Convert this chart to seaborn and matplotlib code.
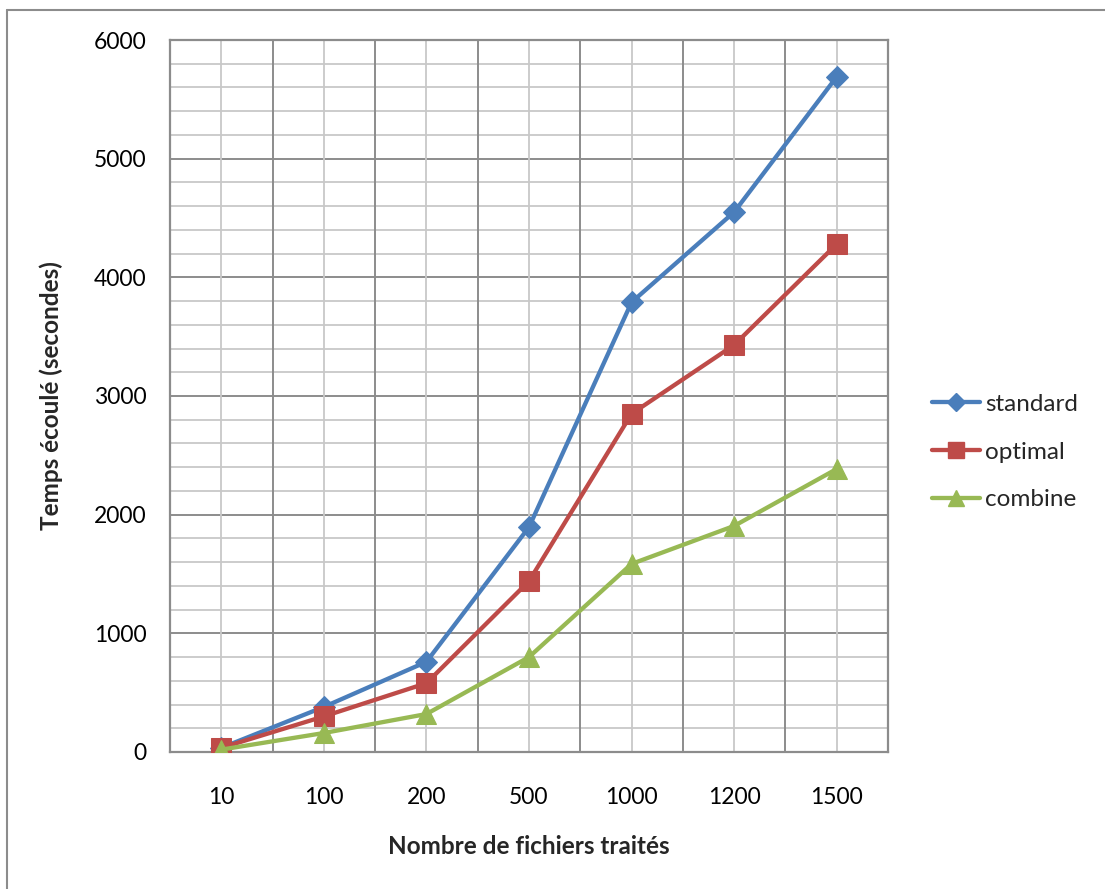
import matplotlib
matplotlib.use("Agg")
import matplotlib.pyplot as plt
from matplotlib.lines import Line2D
import numpy as np
import pandas as pd
import seaborn as sns

categories = ["10", "100", "200", "500", "1000", "1200", "1500"]
standard = [35, 380, 760, 1895, 3790, 4550, 5690]
optimal = [35, 300, 580, 1440, 2850, 3430, 4280]
combine = [20, 160, 320, 800, 1585, 1905, 2385]
series_names = ["standard", "optimal", "combine"]
y_ticks = [0, 1000, 2000, 3000, 4000, 5000, 6000]

colors = {"standard": "#4A7EBB", "optimal": "#BE4B48", "combine": "#98B954"}
markers = {"standard": "D", "optimal": "s", "combine": "^"}
msizes = {"standard": 11, "optimal": 14, "combine": 14}

sns.set_style("white")
plt.rcParams["font.family"] = ["Lato", "DejaVu Sans"]

rows = []
for name, vals in zip(series_names, [standard, optimal, combine]):
    for i, v in enumerate(vals):
        rows.append({"pos": i, "value": v, "series": name})
df = pd.DataFrame(rows)

fig = plt.figure(figsize=(11.05, 8.89), dpi=100)
ax = fig.add_axes([170 / 1105, 1 - 752 / 889, (888 - 170) / 1105, (752 - 40) / 889])

for name in series_names:
    sub = df[df["series"] == name]
    sns.lineplot(data=sub, x="pos", y="value", ax=ax, color=colors[name],
                 marker=markers[name], markersize=msizes[name],
                 markeredgecolor=colors[name], linewidth=3.1, label=name,
                 legend=False, zorder=3)

ax.set_xlim(-0.5, len(categories) - 0.5)
ax.set_ylim(0, 6000)
ax.set_xticks(range(len(categories)))
ax.set_xticklabels(categories)
ax.set_yticks(y_ticks)

# gridlines: darker at y majors and x category boundaries
ax.grid(False)
for y in np.arange(200, 6000, 200):
    major = (y % 1000 == 0)
    ax.axhline(y, color="#8c8c8c" if major else "#c8c8c8", lw=1.4 if major else 1.3, zorder=1)
for x in np.arange(-0.5, len(categories), 1.0):
    ax.axvline(x, color="#8c8c8c", lw=1.4, zorder=1)
for x in range(len(categories)):
    ax.axvline(x, color="#c8c8c8", lw=1.3, zorder=1)

for s in ax.spines.values():
    s.set_color("#8c8c8c")
    s.set_linewidth(1.6)

ax.tick_params(axis="both", which="both", length=0, labelsize=16.5, colors="black")
ax.tick_params(axis="y", pad=17)
ax.tick_params(axis="x", pad=25)

ax.set_xlabel("Nombre de fichiers traités", fontsize=17.5, fontweight="bold", labelpad=20)
ax.set_ylabel("Temps écoulé (secondes)", fontsize=17.5, fontweight="bold", labelpad=22)

handles = [Line2D([0], [0], color=colors[n], marker=markers[n], markersize=msizes[n] * 0.85,
                  lw=3.1) for n in series_names]
fig.legend(handles, series_names, loc="center left",
           bbox_to_anchor=(910 / 1105, 1 - 452 / 889), frameon=False,
           fontsize=17.5, handlelength=2.0, handletextpad=0.2, labelspacing=1.1)

# outer chart frame
fig.add_artist(Line2D([7 / 1105, 7 / 1105], [0, 1 - 10 / 889], transform=fig.transFigure,
                      color="#8c8c8c", lw=1.5))
fig.add_artist(Line2D([7 / 1105, 1], [1 - 10 / 889, 1 - 10 / 889], transform=fig.transFigure,
                      color="#8c8c8c", lw=1.5))

fig.savefig("out.png", dpi=100)
